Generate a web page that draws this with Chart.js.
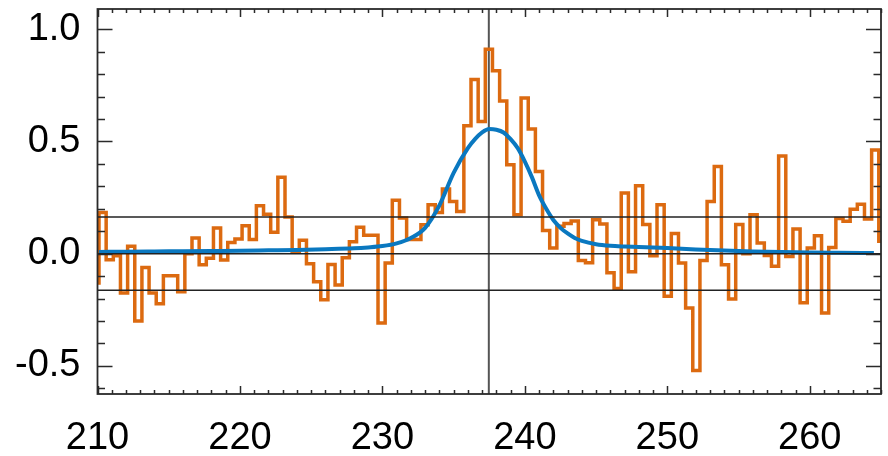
<!DOCTYPE html>
<html lang="en">
<head>
<meta charset="UTF-8">
<title>Line profile</title>
<script src="https://cdn.jsdelivr.net/npm/chart.js"></script>
<style>
  html, body { margin: 0; padding: 0; background: #fff; }
  #wrap { width: 888px; height: 456px; }
</style>
</head>
<body>
<div id="wrap"><canvas id="profile" width="888" height="456"></canvas></div>
<script>
// channel grid of the binned spectrum
const firstCenter = 209.854
const binWidth = 0.5022

// binned flux, one value per channel (drawn as a histogram)
const stepValues = [
  -0.13,
  0.184, -0.027, -0.009, -0.175, 0.033, -0.30, -0.061, -0.175, -0.223, -0.098,
  -0.098, -0.17, 0.0, 0.07, -0.049, -0.02, 0.115, -0.028, 0.05, 0.066,
  0.125, 0.063, 0.214, 0.176, 0.095, 0.341, 0.163, 0.009, 0.06, -0.045,
  -0.125, -0.205, -0.048, -0.14, -0.018, 0.053, 0.118, 0.082, 0.082, -0.309,
  -0.041, 0.238, 0.159, 0.063, 0.063, 0.129, 0.218, 0.184, 0.288, 0.233,
  0.188, 0.57, 0.776, 0.589, 0.911, 0.815, 0.68, 0.396, 0.174, 0.693,
  0.556, 0.366, 0.103, 0.025, 0.122, 0.135, 0.146, -0.03, -0.04, 0.151,
  0.132, -0.085, -0.155, 0.27, -0.08, 0.303, 0.13, -0.009, 0.218, -0.19,
  0.09, -0.041, -0.242, -0.52, -0.03, 0.233, 0.388, -0.049, -0.202, 0.13,
  0.0, 0.174, 0.048, -0.008, -0.056, 0.435, -0.012, 0.11, -0.219, 0.025,
  0.08, -0.264, 0.028, 0.157, 0.144, 0.198, 0.22, 0.154, 0.462,
  0.055
]

// fitted line model
const fitX = [210.1, 212, 214, 216, 218, 220, 222, 224, 226, 228,
  229, 230, 231, 232, 233, 234, 235, 236, 236.5, 237,
  237.5, 238, 238.5, 239, 239.5, 240, 240.5, 241, 241.5, 242,
  242.5, 243, 243.5, 244, 245, 246, 247, 248, 250, 252,
  254, 256, 258, 260, 262, 264.5]
const fitY = [0.008, 0.009, 0.01, 0.011, 0.012, 0.013, 0.015, 0.017, 0.02, 0.024,
  0.028, 0.034, 0.046, 0.07, 0.115, 0.215, 0.36, 0.47, 0.51, 0.54,
  0.555, 0.552, 0.54, 0.51, 0.47, 0.41, 0.34, 0.26, 0.2, 0.15,
  0.115, 0.09, 0.07, 0.057, 0.042, 0.035, 0.032, 0.03, 0.025, 0.019,
  0.014, 0.01, 0.007, 0.005, 0.004, 0.003]

// reference levels: zero and +/- 1 sigma, plus line centre
const sigmaLevels = [0.163, 0, -0.163]
const lineCenter = 237.47

const xRange = [210, 265]
const yRange = [-0.625, 1.09]
const xTicks = [210, 220, 230, 240, 250, 260]
const yTicks = [-0.5, 0.0, 0.5, 1.0]
const yTickLabels = ['-0.5', '0.0', '0.5', '1.0']

const ORANGE = '#dc6a10'
const BLUE = '#0a78c0'

const histData = stepValues.map((v, i) => ({ x: firstCenter + i * binWidth, y: v }))
const fitData = fitX.map((x, i) => ({ x, y: fitY[i] }))

const hLineSets = sigmaLevels.map(level => ({
  data: [{ x: xRange[0], y: level }, { x: xRange[1], y: level }],
  borderColor: '#222',
  borderWidth: 1.5,
  pointRadius: 0,
  order: 1
}))

// IDL-style box with inward major/minor ticks on all four sides
const frameTicks = {
  id: 'frameTicks',
  afterDatasetsDraw(chart) {
    const { ctx, chartArea: a, scales: { x, y } } = chart
    ctx.save()
    ctx.strokeStyle = '#2a2a2a'
    ctx.lineWidth = 1.5
    ctx.beginPath()
    for (let v = xRange[0]; v <= xRange[1]; v++) {
      const px = Math.round(x.getPixelForValue(v)) + 0.5
      const len = v % 10 === 0 ? 8 : 4
      ctx.moveTo(px, a.bottom)
      ctx.lineTo(px, a.bottom - len)
      ctx.moveTo(px, a.top)
      ctx.lineTo(px, a.top + len)
    }
    for (let i = -6; i <= 10; i++) {
      const py = Math.round(y.getPixelForValue(i / 10)) + 0.5
      const len = i % 5 === 0 ? 15 : 7.5
      ctx.moveTo(a.left, py)
      ctx.lineTo(a.left + len, py)
      ctx.moveTo(a.right, py)
      ctx.lineTo(a.right - len, py)
    }
    ctx.stroke()
    ctx.lineWidth = 1.8
    ctx.strokeRect(a.left, a.top, a.right - a.left, a.bottom - a.top)
    ctx.restore()
  }
}

Chart.defaults.font.family = '"Liberation Sans", Arial, Helvetica, sans-serif'
Chart.defaults.color = '#000'

new Chart(document.getElementById('profile'), {
  type: 'line',
  data: {
    datasets: [
      ...hLineSets,
      {
        data: fitData,
        borderColor: BLUE,
        borderWidth: 4,
        pointRadius: 0,
        cubicInterpolationMode: 'monotone',
        order: 2
      },
      {
        data: histData,
        borderColor: ORANGE,
        borderWidth: 3.5,
        pointRadius: 0,
        stepped: 'middle',
        borderJoinStyle: 'miter',
        clip: 0,
        order: 3
      },
      {
        data: [{ x: lineCenter, y: yRange[0] }, { x: lineCenter, y: yRange[1] }],
        borderColor: '#555',
        borderWidth: 2,
        pointRadius: 0,
        order: 4
      }
    ]
  },
  options: {
    responsive: false,
    devicePixelRatio: 1,
    animation: false,
    events: [],
    layout: { padding: { left: 0, right: 7, top: 9, bottom: 0 } },
    plugins: { legend: { display: false }, tooltip: { enabled: false } },
    scales: {
      x: {
        type: 'linear',
        min: xRange[0],
        max: xRange[1],
        grid: { display: false },
        border: { display: false },
        afterBuildTicks: s => { s.ticks = xTicks.map(value => ({ value })) },
        afterFit: s => {
          s.height = 62
          s.paddingLeft = 0
          s.paddingRight = 0
        },
        ticks: {
          font: { size: 38 },
          padding: 14,
          maxRotation: 0,
          autoSkip: false,
          callback: v => String(v)
        }
      },
      y: {
        type: 'linear',
        min: yRange[0],
        max: yRange[1],
        grid: { display: false },
        border: { display: false },
        afterBuildTicks: s => { s.ticks = yTicks.map(value => ({ value })) },
        afterFit: s => {
          s.width = 97.5
          s.paddingTop = 0
          s.paddingBottom = 0
        },
        ticks: {
          font: { size: 38 },
          padding: 9,
          autoSkip: false,
          callback: (v, i) => yTickLabels[i]
        }
      }
    }
  },
  plugins: [frameTicks]
})
</script>
</body>
</html>
